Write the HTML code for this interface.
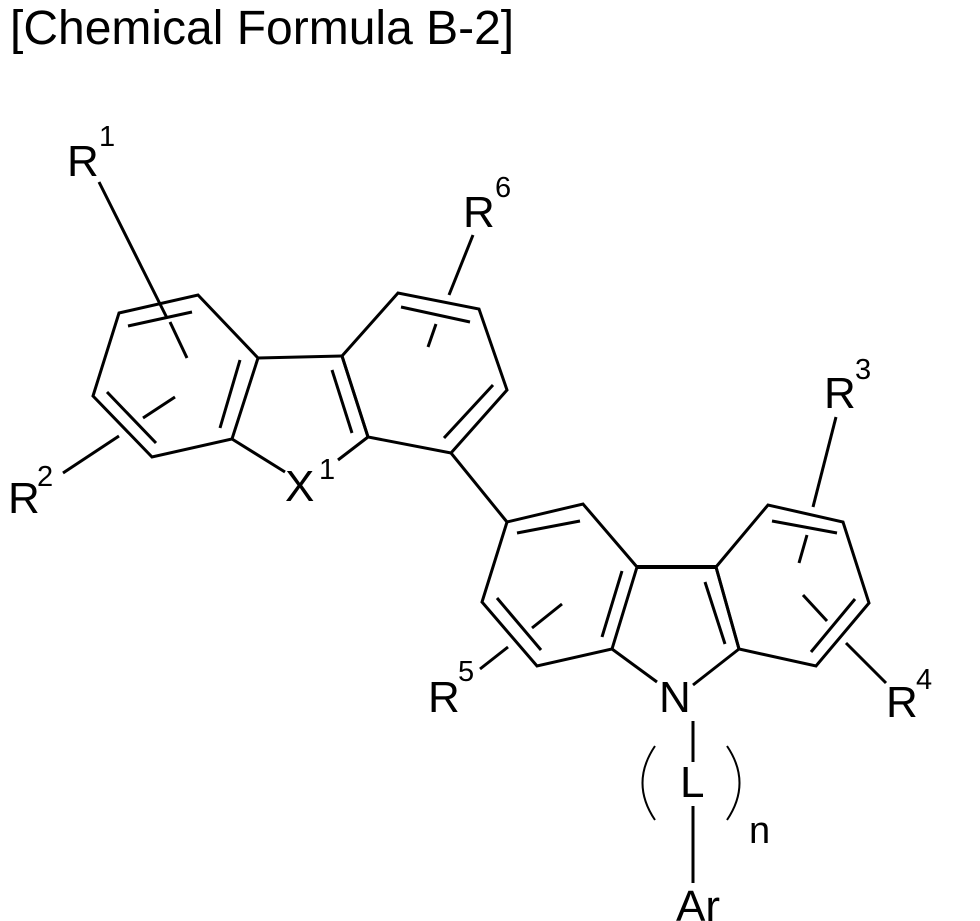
<!DOCTYPE html>
<html><head><meta charset="utf-8"><style>
html,body{margin:0;padding:0;background:#fff;}
svg{display:block}
text{font-family:"Liberation Sans",sans-serif;fill:#000}
</style></head><body>
<svg width="980" height="921" viewBox="0 0 980 921" xmlns="http://www.w3.org/2000/svg">
<text x="10" y="44" font-size="48">[Chemical Formula B-2]</text>
<g stroke="#000" stroke-width="3" fill="none" stroke-linecap="butt" stroke-linejoin="miter">
<polygon points="119,313 198,295 258,358 232,439 152,457 93,396"/>
<line x1="128" y1="326" x2="192" y2="312"/>
<line x1="240" y1="360" x2="220" y2="428"/>
<line x1="107" y1="392" x2="156" y2="443"/>
<line x1="99" y1="182" x2="167" y2="318"/>
<line x1="170" y1="322" x2="187" y2="358"/>
<line x1="63" y1="473" x2="119" y2="436"/>
<line x1="143" y1="418" x2="175" y2="397"/>
<line x1="258" y1="358" x2="342" y2="356"/>
<line x1="342" y1="356" x2="368" y2="437"/>
<line x1="332" y1="370" x2="352" y2="433"/>
<line x1="232" y1="439" x2="285" y2="472"/>
<line x1="368" y1="437" x2="338" y2="460"/>
<polygon points="342,356 398,293 479,309 507,390 451,453 368,437"/>
<line x1="401" y1="307" x2="470" y2="322"/>
<line x1="493" y1="385" x2="444" y2="438"/>
<line x1="473" y1="235" x2="449" y2="295"/>
<line x1="436" y1="324" x2="428" y2="347"/>
<line x1="451" y1="453" x2="507" y2="522"/>
<polygon points="507,522 583,504 637,567 612,649 537,666 482,602"/>
<line x1="517" y1="533" x2="580" y2="521"/>
<line x1="622" y1="571" x2="602" y2="637"/>
<line x1="497" y1="598" x2="541" y2="650"/>
<line x1="480" y1="669" x2="508" y2="647"/>
<line x1="532" y1="628" x2="562" y2="604"/>
<line x1="637" y1="567" x2="716" y2="567" stroke-width="4"/>
<line x1="716" y1="567" x2="739" y2="649"/>
<line x1="705" y1="582" x2="725" y2="644"/>
<line x1="612" y1="649" x2="657" y2="682"/>
<line x1="739" y1="649" x2="693" y2="685"/>
<polygon points="716,567 768,505 843,522 869,603 816,666 739,649"/>
<line x1="772" y1="521" x2="837" y2="533"/>
<line x1="855" y1="599" x2="811" y2="652"/>
<line x1="836" y1="417" x2="813" y2="507"/>
<line x1="807" y1="535" x2="799" y2="563"/>
<line x1="886" y1="683" x2="846" y2="643"/>
<line x1="827" y1="621" x2="803" y2="595"/>
<line x1="693" y1="721" x2="693" y2="762"/>
<line x1="693" y1="806" x2="693" y2="883"/>
<path d="M655,746 Q630,783 655,820" stroke-width="2"/>
<path d="M727,746 Q752,783 727,820" stroke-width="2"/>
</g>
<g font-size="44">
<text x="67" y="176">R</text>
<text x="463" y="227">R</text>
<text x="8" y="513">R</text>
<text x="285" y="501">X</text>
<text x="824" y="408">R</text>
<text x="428" y="712">R</text>
<text x="886" y="717">R</text>
<text x="659" y="712">N</text>
<text x="680" y="797">L</text>
<text x="676" y="921">Ar</text>
</g>
<g font-size="29">
<text x="99" y="146">1</text>
<text x="495" y="197">6</text>
<text x="37" y="486">2</text>
<text x="319" y="479">1</text>
<text x="855" y="379">3</text>
<text x="458" y="681">5</text>
<text x="916" y="689">4</text>
</g>
<text x="749" y="843" font-size="38">n</text>
</svg>
</body></html>
